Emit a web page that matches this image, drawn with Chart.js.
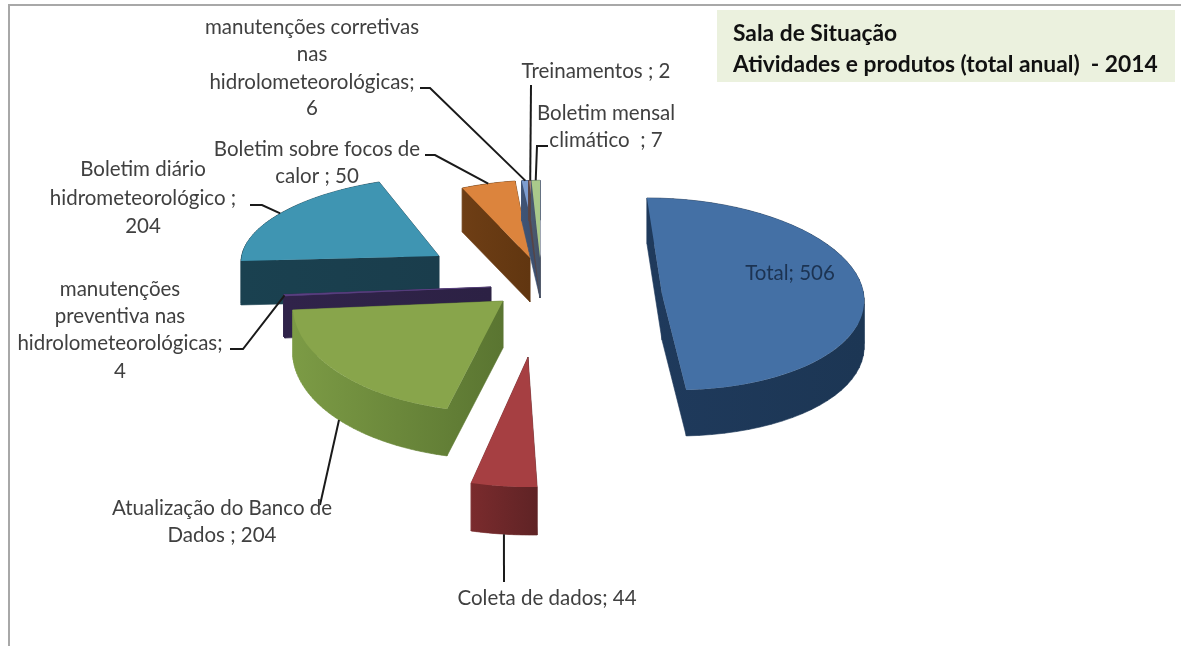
<!DOCTYPE html>
<html>
<head>
<meta charset="utf-8">
<style>html,body{margin:0;padding:0;background:#fff}canvas{display:block}</style>
<script src="https://cdn.jsdelivr.net/npm/chart.js@4/dist/chart.umd.min.js"></script>
</head>
<body>
<canvas id="c" width="1181" height="646"></canvas>
<script>
const categories = ['Total','Coleta de dados','Atualização do Banco de Dados','manutenções preventiva nas hidrolometeorológicas','Boletim diário hidrometeorológico','Boletim sobre focos de calor','manutenções corretivas nas hidrolometeorológicas','Treinamentos','Boletim mensal climático'];
const values = [506,44,204,4,204,50,6,2,7];
const titleLines = ['Sala de Situação','Atividades e produtos (total anual)  - 2014'];

const topColors  = ['#4470a5','#a63f42','#88a54b','#5b4183','#3f95b2','#dc843d','#7d9dd0','#a87e78','#a9c98b'];
const wallFrom   = ['#1f3a5c','#7a2b2d','#7c9b45','#30234a','#1a4150','#6e3e15','#3f5475','#5a4544','#4a5a70'];
const wallTo     = ['#1c3654','#5f2325','#5a7531','#2c2144','#1a3d4c','#613610','#3a4e6e','#544040','#445268'];
// per-slice view of the tilted pie: [a,b,c,d] projection, pull-out from pie centre, extrusion
const project = [
  [1.01,.015,.04,.48],[1.236,.04,-.054,.649],[1.049,.03,-.085,.555],[1.04,.0,.0,.34],
  [.982,.019,-.124,.399],[.893,-.008,-.039,.389],[1,0,-.035,.389],[1,0,-.035,.389],[1,0,-.035,.389]
];
const pull = [[662,294],[528,357],[503,301],[491,287],[439,256],[530,258],[540,258],[540,258],[540,258]];
const depth = [46,48,47,42,44,44,40,40,40];
const drawOrder = [4,5,6,7,8,3,0,2,1];

// label blocks: lines, centre x, middle y of each line
const labels = [
  {lines:['Total; 506'],x:790,ys:[273],color:'#1c3352'},
  {lines:['Coleta de dados; 44'],x:547,ys:[598]},
  {lines:['Atualização do Banco de','Dados ; 204'],x:222,ys:[508,535]},
  {lines:['manutenções','preventiva nas','hidrolometeorológicas;','4'],x:120,ys:[289,316,343,371]},
  {lines:['Boletim diário','hidrometeorológico ;','204'],x:143,ys:[169,198,226]},
  {lines:['Boletim sobre focos de','calor ; 50'],x:317,ys:[149,176]},
  {lines:['manutenções corretivas','nas','hidrolometeorológicas;','6'],x:312,ys:[27,54,82,108]},
  {lines:['Treinamentos ; 2'],x:596,ys:[71]},
  {lines:['Boletim mensal','climático  ; 7'],x:606,ys:[113,140]}
];
// leader lines: slice index, label-side points, whether it ends on the lower rim
const leaders = [
  {i:1,pts:[[504,582]],low:true},
  {i:2,pts:[[320,505]],low:true},
  {i:3,pts:[[243,349],[230,349]]},
  {i:4,pts:[[262,205],[250,205]]},
  {i:5,pts:[[435,155],[425,155]]},
  {i:6,pts:[[430,88],[420,88]]},
  {i:7,pts:[[531,85]]},
  {i:8,pts:[[537,146],[548,146]]}
];

const pseudo3d = {
  id:'pseudo3d',
  beforeDatasetDraw(chart,args){
    const ctx = chart.ctx;
    const arcs = chart.getDatasetMeta(0).data;
    const rim = (i,ang)=>{
      const el=arcs[i], [a,b,c,d]=project[i], R=el.outerRadius;
      const x=R*Math.cos(ang), y=R*Math.sin(ang);
      return [pull[i][0]+a*x+c*y, pull[i][1]+b*x+d*y];
    };
    // frame
    ctx.save();
    ctx.strokeStyle='#a8a8a8'; ctx.lineWidth=2;
    ctx.beginPath(); ctx.moveTo(1181,5); ctx.lineTo(9,5); ctx.lineTo(9,646); ctx.stroke();
    ctx.restore();
    // slices, back to front
    drawOrder.forEach(i=>{
      const el=arcs[i], [a,b,c,d]=project[i];
      const pts=[pull[i]];
      for(let s=0;s<=48;s++) pts.push(rim(i,el.startAngle+(el.endAngle-el.startAngle)*s/48));
      const xs=pts.map(p=>p[0]);
      const g=ctx.createLinearGradient(Math.min(...xs),0,Math.max(...xs),0);
      g.addColorStop(0,wallFrom[i]); g.addColorStop(1,wallTo[i]);
      ctx.save();
      ctx.fillStyle=g; ctx.strokeStyle=g; ctx.lineWidth=.6; ctx.lineJoin='round';
      const D=depth[i], n=pts.length;
      // one path for all wall quads, same winding, so no seams appear between them
      ctx.beginPath();
      pts.forEach((p,m)=>{
        const q=pts[(m+1)%n];
        if(q[0]>=p[0]){
          ctx.moveTo(p[0],p[1]); ctx.lineTo(q[0],q[1]); ctx.lineTo(q[0],q[1]+D); ctx.lineTo(p[0],p[1]+D);
        }else{
          ctx.moveTo(q[0],q[1]); ctx.lineTo(p[0],p[1]); ctx.lineTo(p[0],p[1]+D); ctx.lineTo(q[0],q[1]+D);
        }
        ctx.closePath();
      });
      ctx.fill(); ctx.stroke();
      ctx.restore();
      ctx.save();
      ctx.translate(pull[i][0],pull[i][1]);
      ctx.transform(a,b,c,d,0,0);
      ctx.translate(-el.x,-el.y);
      el.draw(ctx);
      ctx.restore();
    });
    // leader lines
    ctx.save();
    ctx.strokeStyle='#1a1a1a'; ctx.lineWidth=2;
    leaders.forEach(l=>{
      const el=arcs[l.i];
      const p=rim(l.i,(el.startAngle+el.endAngle)/2);
      ctx.beginPath();
      ctx.moveTo(p[0],p[1]+(l.low?depth[l.i]:0));
      l.pts.forEach(q=>ctx.lineTo(q[0],q[1]));
      ctx.stroke();
    });
    ctx.restore();
    // labels
    ctx.save();
    ctx.font='20.5px Lato'; ctx.textAlign='center'; ctx.textBaseline='middle';
    labels.forEach(l=>{
      ctx.fillStyle=l.color||'#404040';
      l.lines.forEach((t,n)=>ctx.fillText(t,l.x,l.ys[n]));
    });
    // title box
    ctx.fillStyle='#ebf1de'; ctx.fillRect(717,10,458,72);
    ctx.fillStyle='#111'; ctx.font='bold 22.8px Lato'; ctx.textAlign='left';
    ctx.fillText(titleLines[0],733,34);
    ctx.fillText(titleLines[1],733,65);
    ctx.restore();
    return false;
  }
};

new Chart(document.getElementById('c'),{
  type:'pie',
  data:{labels:categories,datasets:[{data:values,backgroundColor:topColors,borderColor:topColors,borderWidth:[0,0,0,1.5,0,0,0,0,0]}]},
  options:{
    responsive:false,animation:false,rotation:-2,radius:200,
    plugins:{legend:{display:false},tooltip:{enabled:false},title:{display:false}}
  },
  plugins:[pseudo3d]
});
</script>
</body>
</html>
